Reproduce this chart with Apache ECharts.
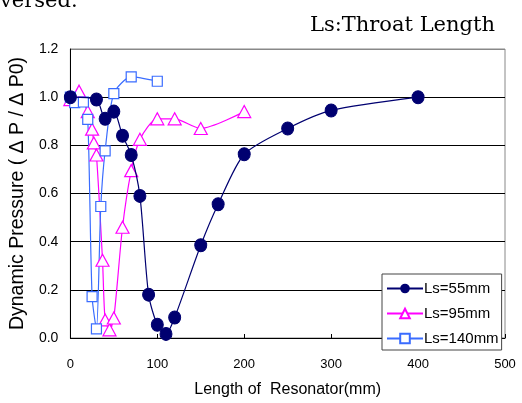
<!DOCTYPE html>
<html><head><meta charset="utf-8">
<script src="https://cdn.jsdelivr.net/npm/echarts@6/dist/echarts.min.js"></script>
<style>html,body{margin:0;padding:0;background:#fff}#c{width:522px;height:403px}</style>
</head><body><div id="c"></div>
<script>
const seriesNames = ['Ls=55mm', 'Ls=95mm', 'Ls=140mm'];
const ls55 = [[0,1.00],[30,0.99],[40,0.91],[50,0.94],[60,0.84],[70,0.76],[80,0.59],[90,0.18],[100,0.055],[110,0.017],[120,0.085],[150,0.385],[170,0.555],[200,0.763],[250,0.87],[300,0.945],[400,1.00]];
const ls95 = [[0,0.99],[10,1.025],[20,0.94],[25,0.867],[27,0.81],[30,0.76],[37,0.323],[40,0.075],[45,0.034],[50,0.083],[60,0.46],[70,0.695],[80,0.825],[100,0.91],[120,0.91],[150,0.87],[200,0.94]];
const ls140 = [[0,1.00],[5,0.977],[15,0.98],[20,0.908],[25,0.172],[30,0.038],[35,0.546],[40,0.777],[50,1.015],[70,1.084],[100,1.066]];
const xTicks = [0,100,200,300,400,500];
const yTicks = [0,0.2,0.4,0.6,0.8,1.0,1.2];

const sans = "'Liberation Sans',Arial,sans-serif";
const serif = "'DejaVu Serif','Liberation Serif',serif";
const chart = echarts.init(document.getElementById('c'));
chart.setOption({
  backgroundColor: '#fff',
  animation: false,
  graphic: [
    {type:'text', left: 0, top: -9, style:{text:'versed.', font:"21px " + serif, fill:'#000'}},
    {type:'text', left: 310, top: 15, style:{text:'Ls:Throat Length', font:"21px " + serif, fill:'#000'}}
  ],
  grid: {left: 69, right: 17, top: 49, bottom: 63, show: true, borderColor: '#888', borderWidth: 1},
  legend: {
    orient: 'vertical', left: 382, top: 274, width: 112,
    backgroundColor: '#fff', borderColor: '#444', borderWidth: 1,
    padding: [7, 3, 4, 4], itemGap: 10, itemWidth: 36, itemHeight: 12,
    textStyle: {fontFamily: sans, fontSize: 15, color: '#000', padding: [0,0,0,-4]},
    data: seriesNames
  },
  xAxis: {
    type: 'value', min: 0, max: 500, interval: 100,
    name: 'Length of  Resonator(mm)', nameLocation: 'middle', nameGap: 44,
    nameTextStyle: {fontFamily: sans, fontSize: 16, color: '#000'},
    axisLine: {show: true, lineStyle: {color: '#000'}},
    axisTick: {show: true, inside: true, length: 4, lineStyle: {color: '#000'}},
    axisLabel: {fontFamily: sans, fontSize: 13, color: '#000', margin: 20,
      formatter: v => xTicks.includes(v) ? String(v) : ''},
    splitLine: {show: false}
  },
  yAxis: {
    type: 'value', min: 0, max: 1.2, interval: 0.2,
    name: 'Dynamic Pressure ( Δ P / Δ P0)', nameLocation: 'middle', nameGap: 33, nameRotate: 90,
    nameTextStyle: {fontFamily: sans, fontSize: 19.5, color: '#000'},
    axisLine: {show: true, lineStyle: {color: '#000'}},
    axisTick: {show: false},
    axisLabel: {fontFamily: sans, fontSize: 14, color: '#000', margin: 12,
      formatter: v => yTicks.some(t => Math.abs(t - v) < 1e-9) ? v.toFixed(1) : ''},
    splitLine: {show: true, lineStyle: {color: ['#000','#000','#000','#000','#000','#000','#888'], width: 1}}
  },
  series: [
    {name: seriesNames[0], type: 'line', data: ls55, smooth: 0.25,
     symbol: 'circle', symbolSize: [12, 13], showAllSymbol: true,
     lineStyle: {color: '#000070', width: 1.2},
     itemStyle: {color: '#000070', borderColor: '#000070'}, z: 3},
    {name: seriesNames[1], type: 'line', data: ls95, smooth: 0.25,
     symbol: 'triangle', symbolSize: [13, 12], showAllSymbol: true,
     lineStyle: {color: '#ff00ff', width: 1.2},
     itemStyle: {color: '#ffffff', borderColor: '#ff00ff', borderWidth: 1.2}, z: 2},
    {name: seriesNames[2], type: 'line', data: ls140, smooth: 0.25,
     symbol: 'rect', symbolSize: 10, showAllSymbol: true,
     lineStyle: {color: '#3a6cff', width: 1.2},
     itemStyle: {color: '#ffffff', borderColor: '#3a6cff', borderWidth: 1.2}, z: 2}
  ]
});
</script></body></html>
